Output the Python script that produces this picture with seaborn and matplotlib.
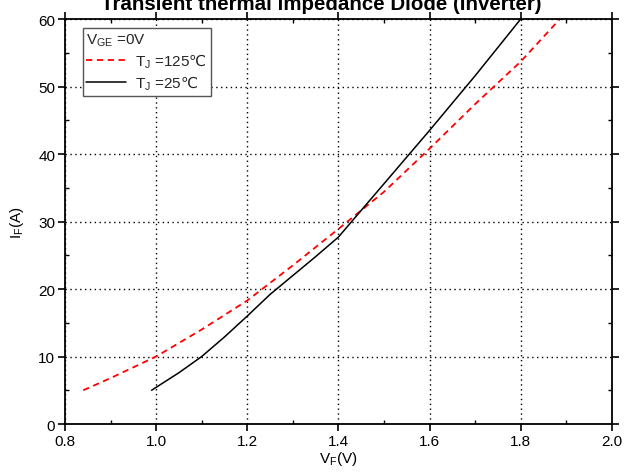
import numpy as np
import pandas as pd
import matplotlib
matplotlib.use("Agg")
import matplotlib.pyplot as plt
from matplotlib.ticker import MultipleLocator
import seaborn as sns

# ---- data ----
vf_125 = [0.84, 0.90, 1.00, 1.10, 1.20, 1.30, 1.40, 1.50, 1.60, 1.70, 1.80, 1.886]
if_125 = [5.0, 6.8, 10.0, 14.0, 18.3, 23.5, 28.9, 34.4, 40.8, 47.4, 53.7, 60.0]
vf_25 = [0.99, 1.05, 1.10, 1.15, 1.20, 1.25, 1.30, 1.35, 1.40, 1.50, 1.60, 1.70, 1.80]
if_25 = [5.0, 7.6, 10.0, 12.9, 16.0, 19.2, 22.0, 24.8, 27.7, 35.6, 43.5, 51.6, 60.0]
x_ticks = [0.8, 1.0, 1.2, 1.4, 1.6, 1.8, 2.0]
y_ticks = [0, 10, 20, 30, 40, 50, 60]
title = "Transient thermal impedance Diode (Inverter)"
legend_title = r"V$_\mathregular{GE}$ =0V"
label_125 = r"T$_\mathregular{J}$ =125$\mathsf{℃}$"
label_25 = r"T$_\mathregular{J}$ =25$\mathsf{℃}$"

sns.set_theme(style="ticks")
plt.rcParams["font.family"] = ["Liberation Sans", "DejaVu Sans"]
plt.rcParams["mathtext.fontset"] = "custom"
plt.rcParams["mathtext.rm"] = "Liberation Sans"
plt.rcParams["mathtext.sf"] = "DejaVu Sans"
plt.rcParams["mathtext.fallback"] = "stixsans"

df = pd.concat([
    pd.DataFrame({"VF": vf_125, "IF": if_125, "series": label_125}),
    pd.DataFrame({"VF": vf_25, "IF": if_25, "series": label_25}),
])

fig = plt.figure(figsize=(6.25, 4.77), dpi=100)
ax = fig.add_axes([0.104, 0.109, 0.875, 0.849])

sns.lineplot(data=df, x="VF", y="IF", hue="series", style="series",
             palette={label_125: "#ff0000", label_25: "black"},
             dashes={label_125: (3.5, 2.5), label_25: ""},
             sort=False, estimator=None, ax=ax, linewidth=1.1)
for ln in ax.get_lines():
    if ln.get_color() in ("#ff0000", (1.0, 0.0, 0.0, 1.0)):
        ln.set_linewidth(1.3)

ax.set_xlim(0.8, 2.0)
ax.set_ylim(0, 60)
ax.set_xticks(x_ticks)
ax.set_xticklabels([f"{t:.1f}" for t in x_ticks])
ax.set_yticks(y_ticks)
ax.xaxis.set_minor_locator(MultipleLocator(0.1))
ax.yaxis.set_minor_locator(MultipleLocator(5))

ax.grid(True, which="major", color="black", linestyle=(0, (1, 2.5)), linewidth=1.0)
for s in ax.spines.values():
    s.set_visible(True)
    s.set_color("black")
    s.set_linewidth(1.3)

ax.tick_params(which="major", direction="out", length=5, width=1.2, colors="black",
               labelsize=11, pad=2)
ax.tick_params(which="minor", direction="in", length=3, width=1.0, colors="black")
ax.tick_params(which="both", top=True, right=True)

ax.set_xlabel(r"V$_\mathregular{F}$(V)", fontsize=11, labelpad=1, color="black")
ax.set_ylabel(r"I$_\mathregular{F}$(A)", fontsize=11, labelpad=9, color="black")

fig.text(0.514, 1 - 10 / 477, title, ha="center", va="baseline",
         fontsize=14.8, fontweight="bold", color="black")

handles, labels = ax.get_legend_handles_labels()
leg = ax.legend(handles, labels, title=legend_title, loc="upper left",
                bbox_to_anchor=(0.032, 0.978), frameon=True, fancybox=False,
                edgecolor="#555555", framealpha=1, fontsize=11, title_fontsize=11,
                alignment="left", handlelength=2.6, handletextpad=0.6,
                borderpad=0.25, labelspacing=0.2, borderaxespad=0)
leg.get_frame().set_linewidth(1.0)

fig.savefig("out.png", dpi=100)
